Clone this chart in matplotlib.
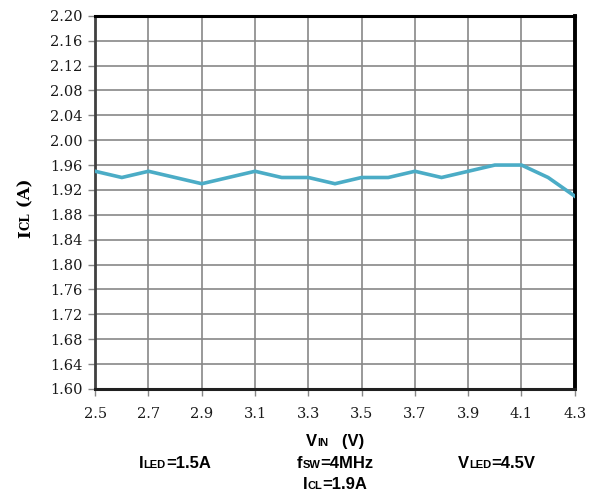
import matplotlib
matplotlib.use('Agg')
import matplotlib.pyplot as plt
import numpy as np

# data
vin = [2.5, 2.6, 2.7, 2.8, 2.9, 3.0, 3.1, 3.2, 3.3, 3.4,
       3.5, 3.6, 3.7, 3.8, 3.9, 4.0, 4.1, 4.2, 4.3]
icl = [1.95, 1.94, 1.95, 1.94, 1.93, 1.94, 1.95, 1.94, 1.94, 1.93,
       1.94, 1.94, 1.95, 1.94, 1.95, 1.96, 1.96, 1.94, 1.91]
x_ticks = [2.5, 2.7, 2.9, 3.1, 3.3, 3.5, 3.7, 3.9, 4.1, 4.3]
y_ticks = np.arange(1.60, 2.201, 0.04)

line_color = '#4BACC6'
grid_color = '#878787'
serif = ['DejaVu Serif']
sans = ['Liberation Sans', 'DejaVu Sans']

fig = plt.figure(figsize=(5.95, 4.93), dpi=100)
ax = fig.add_axes([0.160, 0.211, 0.806, 0.757])

ax.plot(vin, icl, color=line_color, linewidth=2.6, solid_joinstyle='miter', zorder=3)

ax.set_xlim(2.5, 4.3)
ax.set_ylim(1.60, 2.20)
ax.set_xticks(x_ticks)
ax.set_xticklabels(['%.1f' % v for v in x_ticks])
ax.set_yticks(y_ticks)
ax.set_yticklabels(['%.2f' % v for v in y_ticks])
for lab in ax.get_xticklabels() + ax.get_yticklabels():
    lab.set_family(serif)
    lab.set_fontsize(10.5)
    lab.set_color('#1a1a1a')
ax.tick_params(axis='both', direction='out', length=5, width=1, color=grid_color, pad=4)
ax.tick_params(axis='x', pad=8)

ax.grid(True, color=grid_color, linewidth=1.2, zorder=1)
ax.set_axisbelow(True)

ax.spines['top'].set_linewidth(2.2)
ax.spines['top'].set_color('black')
ax.spines['right'].set_linewidth(2.8)
ax.spines['right'].set_color('black')
ax.spines['left'].set_linewidth(2.0)
ax.spines['left'].set_color('#404040')
ax.spines['bottom'].set_linewidth(2.2)
ax.spines['bottom'].set_color('#202020')

renderer = fig.canvas.get_renderer()


def rich(xc, yb, parts, family, rotate=False):
    # parts: list of (text, size); drawn side by side, centred on xc (or yb if rotated)
    W, H = fig.get_size_inches() * fig.dpi
    widths = []
    for s, size in parts:
        t = fig.text(0, 0, s, fontsize=size, family=family, weight='bold')
        bb = t.get_window_extent(renderer)
        widths.append(bb.width)
        t.remove()
    total = sum(widths)
    if not rotate:
        x = xc * W - total / 2
        for (s, size), w in zip(parts, widths):
            fig.text(x / W, yb, s, fontsize=size, family=family, weight='bold',
                     ha='left', va='baseline')
            x += w
    else:
        y = yb * H - total / 2
        for (s, size), w in zip(parts, widths):
            fig.text(xc, y / H, s, fontsize=size, family=family, weight='bold',
                     ha='left', va='baseline', rotation=90, rotation_mode='anchor')
            y += w


rich(335 / 595, 1 - 446 / 493, [('V', 12), ('IN', 8), ('   (V)', 12)], sans)
rich(175 / 595, 1 - 468 / 493, [('I', 12), ('LED', 8), ('=1.5A', 12)], sans)
rich(335 / 595, 1 - 468 / 493, [('f', 12), ('SW', 8), ('=4MHz', 12)], sans)
rich(497 / 595, 1 - 468 / 493, [('V', 12), ('LED', 8), ('=4.5V', 12)], sans)
rich(335 / 595, 1 - 489 / 493, [('I', 12), ('CL', 8), ('=1.9A', 12)], sans)
rich(30 / 595, 1 - 208 / 493, [('I', 12), ('CL', 8.5), (' (A)', 12)], serif, rotate=True)

fig.savefig('out.png', dpi=100)
